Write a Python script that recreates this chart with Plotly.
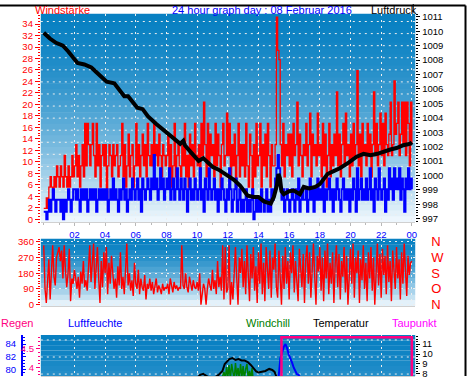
import plotly.graph_objects as go

W, H = 470, 382
FONT = "Liberation Sans, Arial, sans-serif"

# ---------------- data ----------------
# 5-minute samples 00:00 .. 24:00
gust_kmh = [
    1.9, 1.9, 3.7, 1.9, 5.6, 7.4, 5.6, 3.7, 7.4, 5.6, 9.3, 7.4,
    5.6, 9.3, 7.4, 5.6, 11.1, 7.4, 5.6, 9.3, 5.6, 7.4, 11.1, 7.4,
    9.3, 13.0, 7.4, 11.1, 5.6, 9.3, 13.0, 7.4, 16.7, 9.3, 16.7, 13.0,
    9.3, 13.0, 16.7, 11.1, 7.4, 16.7, 9.3, 13.0, 5.6, 11.1, 13.0, 9.3,
    13.0, 3.7, 9.3, 13.0, 11.1, 7.4, 13.0, 9.3, 11.1, 13.0, 7.4, 9.3,
    11.1, 16.7, 7.4, 13.0, 5.6, 9.3, 14.8, 7.4, 11.1, 13.0, 5.6, 9.3,
    16.7, 9.3, 13.0, 7.4, 11.1, 14.8, 9.3, 13.0, 7.4, 16.7, 11.1, 9.3,
    13.0, 9.3, 16.7, 11.1, 13.0, 9.3, 14.8, 11.1, 7.4, 13.0, 11.1, 9.3,
    11.1, 14.8, 7.4, 13.0, 5.6, 9.3, 16.7, 7.4, 11.1, 13.0, 9.3, 7.4,
    13.0, 9.3, 16.7, 7.4, 11.1, 5.6, 14.8, 9.3, 13.0, 7.4, 16.7, 11.1,
    9.3, 13.0, 7.4, 16.7, 11.1, 20.4, 13.0, 7.4, 16.7, 9.3, 14.8, 11.1,
    13.0, 7.4, 16.7, 9.3, 14.8, 11.1, 5.6, 13.0, 16.7, 9.3, 11.1, 18.5,
    11.1, 16.7, 7.4, 13.0, 9.3, 14.8, 5.6, 11.1, 16.7, 7.4, 13.0, 9.3,
    13.0, 7.4, 16.7, 9.3, 5.6, 14.8, 11.1, 3.7, 13.0, 7.4, 16.7, 9.3,
    11.1, 16.7, 5.6, 13.0, 9.3, 14.8, 7.4, 16.7, 11.1, 5.6, 13.0, 9.3,
    9.3, 13.0, 35.2, 29.4, 27.8, 13.0, 9.3, 16.7, 7.4, 13.0, 11.1, 14.8,
    9.3, 14.8, 7.4, 16.7, 11.1, 13.0, 20.4, 9.3, 14.8, 11.1, 7.4, 13.0,
    11.1, 16.7, 9.3, 13.0, 18.5, 7.4, 14.8, 11.1, 13.0, 9.3, 18.5, 11.1,
    13.0, 7.4, 16.7, 9.3, 14.8, 5.6, 11.1, 16.7, 7.4, 13.0, 9.3, 14.8,
    11.1, 22.2, 9.3, 14.8, 7.4, 13.0, 16.7, 9.3, 18.5, 11.1, 13.0, 7.4,
    14.8, 9.3, 16.7, 11.1, 13.0, 25.9, 9.3, 14.8, 7.4, 16.7, 11.1, 13.0,
    9.3, 16.7, 11.1, 14.8, 7.4, 13.0, 22.2, 11.1, 16.7, 9.3, 13.0, 18.5,
    11.1, 16.7, 9.3, 18.5, 13.0, 11.1, 14.8, 20.4, 11.1, 13.0, 24.1, 14.8,
    16.7, 20.4, 11.1, 14.8, 20.4, 13.0, 20.4, 11.1, 20.4, 16.7, 9.3, 20.4,
    13.0,
]

speed_kmh = [
    1.3, 1.3, 0.0, 1.3, 3.4, 1.3, 3.4, 5.2, 3.4, 1.3, 3.4, 3.4,
    3.4, 1.3, 3.4, 0.0, 3.4, 1.3, 3.4, 5.2, 3.4, 1.3, 3.4, 5.2,
    5.2, 3.4, 5.2, 3.4, 1.3, 5.2, 3.4, 5.2, 3.4, 5.2, 1.3, 3.4,
    5.2, 3.4, 5.2, 3.4, 5.2, 1.3, 3.4, 5.2, 3.4, 5.2, 3.4, 5.2,
    3.4, 5.2, 1.3, 3.4, 5.2, 3.4, 7.1, 3.4, 5.2, 3.4, 1.3, 5.2,
    3.4, 5.2, 7.1, 3.4, 5.2, 1.3, 3.4, 5.2, 3.4, 7.1, 5.2, 3.4,
    5.2, 7.1, 3.4, 5.2, 1.3, 7.1, 5.2, 3.4, 5.2, 7.1, 5.2, 3.4,
    7.1, 5.2, 11.2, 5.2, 7.1, 3.4, 5.2, 8.9, 5.2, 7.1, 3.4, 5.2,
    7.1, 5.2, 8.9, 3.4, 5.2, 7.1, 3.4, 5.2, 8.9, 5.2, 3.4, 7.1,
    5.2, 3.4, 7.1, 5.2, 1.3, 5.2, 7.1, 3.4, 5.2, 3.4, 7.1, 5.2,
    3.4, 5.2, 8.9, 3.4, 5.2, 1.3, 7.1, 5.2, 3.4, 8.9, 5.2, 3.4,
    5.2, 7.1, 3.4, 5.2, 1.3, 5.2, 3.4, 7.1, 5.2, 3.4, 1.3, 5.2,
    3.4, 8.9, 5.2, 1.3, 3.4, 5.2, 7.1, 1.3, 3.4, 5.2, 1.3, 3.4,
    1.3, 3.4, 5.2, 1.3, 3.4, 1.3, 3.4, 5.2, 0.0, 1.3, 3.4, 1.3,
    3.4, 1.3, 5.2, 3.4, 1.3, 3.4, 5.2, 1.3, 3.4, 1.3, 5.2, 3.4,
    5.2, 7.1, 8.9, 11.2, 8.9, 5.2, 3.4, 5.2, 1.3, 3.4, 5.2, 3.4,
    1.3, 3.4, 5.2, 3.4, 1.3, 5.2, 3.4, 7.1, 1.3, 3.4, 5.2, 3.4,
    3.4, 5.2, 1.3, 3.4, 7.1, 3.4, 5.2, 1.3, 5.2, 3.4, 7.1, 3.4,
    5.2, 3.4, 7.1, 1.3, 5.2, 3.4, 5.2, 7.1, 3.4, 5.2, 1.3, 5.2,
    3.4, 7.1, 5.2, 3.4, 1.3, 5.2, 7.1, 3.4, 5.2, 3.4, 5.2, 1.3,
    5.2, 3.4, 7.1, 5.2, 1.3, 8.9, 3.4, 5.2, 7.1, 3.4, 5.2, 3.4,
    7.1, 3.4, 5.2, 8.9, 3.4, 5.2, 1.3, 7.1, 5.2, 3.4, 8.9, 5.2,
    3.4, 5.2, 7.1, 1.3, 5.2, 3.4, 8.9, 5.2, 7.1, 3.4, 8.9, 5.2,
    7.1, 5.2, 8.9, 3.4, 7.1, 5.2, 1.3, 7.1, 5.2, 8.9, 5.2, 7.1,
    5.2,
]

direction_deg = [
    340, 90, 10, 170, 260, 30, 200, 340, 160, 110, 270, 300,
    330, 250, 310, 150, 340, 200, 100, 180, 320, 20, 150, 120,
    200, 150, 90, 160, 40, 190, 120, 250, 100, 140, 80, 210,
    340, 130, 270, 350, 90, 200, 330, 150, 10, 250, 100, 300,
    180, 330, 60, 240, 120, 280, 200, 90, 150, 40, 220, 110,
    300, 90, 160, 60, 200, 350, 110, 180, 80, 140, 50, 240,
    120, 90, 200, 60, 150, 100, 80, 170, 30, 120, 90, 150,
    80, 130, 60, 100, 150, 70, 110, 90, 60, 120, 80, 100,
    90, 120, 60, 150, 100, 70, 130, 90, 110, 80, 100, 90,
    340, 110, 90, 180, 100, 70, 160, 120, 80, 140, 100, 90,
    130, 80, 180, 0, 60, 120, 90, 0, 90, 150, 110, 80,
    200, 90, 140, 60, 250, 100, 160, 80, 340, 30, 330, 70,
    90, 340, 0, 130, 30, 220, 330, 150, 0, 270, 180, 320,
    100, 250, 60, 340, 180, 20, 290, 150, 330, 80, 220, 10,
    300, 120, 350, 60, 240, 20, 330, 170, 90, 310, 40, 270,
    200, 350, 100, 40, 310, 160, 0, 280, 90, 330, 120, 250,
    30, 300, 180, 340, 70, 250, 150, 20, 320, 200, 100, 290,
    10, 260, 340, 120, 300, 40, 230, 350, 160, 0, 280, 190,
    330, 80, 270, 20, 310, 150, 350, 60, 240, 120, 300, 10,
    230, 340, 100, 290, 30, 250, 160, 330, 70, 280, 0, 200,
    320, 120, 350, 40, 270, 180, 310, 10, 260, 140, 340, 90,
    240, 20, 300, 150, 330, 80, 270, 0, 220, 350, 110, 290,
    40, 320, 170, 280, 60, 340, 130, 250, 20, 310, 200, 90,
    330, 150, 260, 30, 300, 120, 350, 200, 50, 280, 170, 240,
    250,
]

pressure_hours = [0, 0.4, 0.8, 1.25, 1.6, 2.0, 2.2, 2.65, 3.1, 3.4, 3.75, 4.1,
                  4.6, 4.9, 5.25, 5.5, 5.8, 6.1, 6.45, 6.8, 7.3, 8.0, 8.4, 8.9,
                  9.1, 9.2, 9.6, 10.1, 10.4, 10.6, 11.0, 11.4, 12.1, 12.4, 12.8,
                  13.3, 13.7, 14.0, 14.35, 14.8, 15.0, 15.2, 15.3, 15.4, 15.5,
                  15.65, 16.0, 16.3, 16.7, 16.95, 17.3, 17.7, 18.0, 18.5, 18.9,
                  19.3, 19.9, 20.4, 20.85, 21.3, 21.75, 22.1, 22.6, 23.0, 23.45,
                  23.9, 24.0]
pressure_hpa = [1009.9, 1009.5, 1009.2, 1009.0, 1008.6, 1008.1, 1007.8, 1007.7,
                1007.5, 1007.2, 1006.8, 1006.5, 1006.4, 1006.0, 1005.5, 1005.5,
                1005.1, 1004.7, 1004.6, 1004.1, 1003.6, 1003.0, 1002.7, 1002.2,
                1002.4, 1002.1, 1001.6, 1001.0, 1001.2, 1001.0, 1000.6, 1000.4,
                999.9, 999.7, 999.3, 998.6, 998.5, 998.5, 998.2, 998.05, 998.5,
                999.3, 1000.1, 999.8, 998.9, 998.7, 998.9, 998.95, 998.7, 999.2,
                999.1, 999.2, 999.4, 1000.1, 1000.3, 1000.5, 1000.9, 1001.3,
                1001.5, 1001.4, 1001.5, 1001.65, 1001.8, 1001.9, 1002.1, 1002.2,
                1002.3]

rain_hours = [0, 15.5, 15.5, 24.0, 24.0]
rain_mm = [0, 0, 4.82, 4.82, 0]

humidity_hours = [0, 4, 8, 12, 14, 15.0, 15.32, 15.43, 15.54, 15.65, 15.76, 15.86,
                  15.97, 16.08, 16.19, 16.30, 16.51, 16.62, 16.8, 18, 21, 24]
humidity_pct = [74, 73, 72, 74, 76, 77.5, 79.0, 81.8, 82.8, 83.6, 84.0, 83.4,
                82.4, 81.8, 81.1, 80.3, 79.3, 79.2, 78.3, 77, 76, 75]

temp_hours = [0, 5, 9, 10.0, 10.2, 10.4, 10.6, 11.0, 11.4, 11.65, 11.8, 11.95,
              12.1, 12.3, 12.5, 12.7, 12.9, 13.1, 13.3, 13.5, 13.7, 13.85, 14.0,
              14.2, 14.45, 14.7, 14.9, 15.05, 15.2, 16, 20, 24]
temp_c = [6.0, 5.2, 6.8, 7.6, 7.9, 8.0, 7.8, 7.5, 7.9, 8.3, 9.0, 9.3,
          9.5, 9.6, 9.4, 9.5, 9.35, 9.35, 9.2, 8.9, 8.5, 8.25, 8.15,
          8.2, 8.3, 8.5, 8.4, 8.2, 7.6, 7.0, 6.5, 6.2]

windchill_hours = [0, 6, 11.0, 11.5, 11.75, 11.83, 11.92, 12.0, 12.08, 12.17,
                   12.25, 12.33, 12.42, 12.5, 12.58, 12.67, 12.75, 12.83, 12.92,
                   13.0, 13.08, 13.17, 13.25, 13.33, 13.42, 13.5, 13.58, 13.67,
                   13.75, 14.0, 18, 24]
windchill_c = [4.0, 3.5, 6.0, 7.0, 8.2, 7.4, 8.7, 7.6, 8.9, 7.5, 9.0, 8.0, 7.4,
               9.1, 7.8, 8.6, 7.3, 9.0, 7.7, 8.8, 7.5, 8.5, 9.0, 7.6, 8.3, 7.4,
               8.6, 7.2, 6.8, 6.0, 5.0, 4.5]

hour_ticks = [2, 4, 6, 8, 10, 12, 14, 16, 18, 20, 22, 24]
hour_labels = ["02", "04", "06", "08", "10", "12", "14", "16", "18", "20", "22", "00"]
wind_ticks = list(range(0, 35, 2))
pressure_ticks = list(range(997, 1012))
dir_ticks = [0, 90, 180, 270, 360]
dir_labels = ["N", "O", "S", "W", "N"]
hum_ticks = [78, 80, 82, 84]
rain_ticks = [4, 4.5]
rain_labels = ["4", "4.5"]
temp_ticks = [8, 9, 10, 11]

assert len(gust_kmh) == len(speed_kmh) == len(direction_deg) == 289
step_hours = [i / 12 for i in range(len(gust_kmh))]

# ---------------- layout helpers ----------------
def fx(px):
    return px / W


def fy(py):
    return 1 - py / H


X_DOM = [fx(41), fx(417)]
TOP_DOM = [fy(224), fy(10)]
MID_DOM = [fy(310), fy(241)]
BOT_DOM = [0, fy(340)]
X_RANGE = [-0.19, 24.22]

RED = "#ff0000"
BLUE = "#0000ff"
PINK = "#ff0080"
MAGENTA = "#ff00ff"
GREEN = "#008000"
GRID = "#eeeeee"
DOTS = "2px,4px"

fig = go.Figure()
common = dict(mode="lines", hoverinfo="skip", showlegend=False)
fig.add_trace(go.Scatter(x=step_hours, y=gust_kmh, xaxis="x", yaxis="y",
                         line=dict(color=RED, width=1.3, shape="hv"), **common))
fig.add_trace(go.Scatter(x=step_hours, y=speed_kmh, xaxis="x", yaxis="y",
                         line=dict(color=BLUE, width=2, shape="hv"), **common))
fig.add_trace(go.Scatter(x=pressure_hours, y=pressure_hpa, xaxis="x", yaxis="y2",
                         line=dict(color="#000000", width=4), **common))
fig.add_trace(go.Scatter(x=step_hours, y=direction_deg, xaxis="x2", yaxis="y3",
                         line=dict(color=RED, width=1.4), **common))
fig.add_trace(go.Scatter(x=step_hours, y=direction_deg, xaxis="x2", yaxis="y7",
                         opacity=0, line=dict(color=RED, width=0.1), **common))
fig.add_trace(go.Scatter(x=humidity_hours, y=humidity_pct, xaxis="x3", yaxis="y4",
                         line=dict(color=BLUE, width=2), **common))
fig.add_trace(go.Scatter(x=rain_hours, y=rain_mm, xaxis="x3", yaxis="y5",
                         line=dict(color=PINK, width=2.5), **common))
fig.add_trace(go.Scatter(x=windchill_hours, y=windchill_c, xaxis="x3", yaxis="y6",
                         line=dict(color=GREEN, width=1.5), **common))
fig.add_trace(go.Scatter(x=temp_hours, y=temp_c, xaxis="x3", yaxis="y6",
                         line=dict(color="#000000", width=2), **common))

# ---------------- background gradients and grids ----------------
TOP_RGB = (8, 128, 194)
BOT_RGB = (242, 249, 254)
shapes = []


def gradient(xref, yref, n, f0, f1, gamma=1.6):
    for i in range(n):
        a, b = i / n, (i + 1) / n
        f = f0 + (f1 - f0) * (a + b) / 2
        g = f ** gamma
        c = tuple(round(TOP_RGB[k] + (BOT_RGB[k] - TOP_RGB[k]) * g) for k in range(3))
        shapes.append(dict(type="rect", xref=xref, yref=yref, x0=0, x1=1,
                           y0=max(0, 1 - b - 0.003), y1=1 - a,
                           fillcolor="rgb(%d,%d,%d)" % c, line=dict(width=0),
                           layer="below"))


gradient("x domain", "y domain", 36, 0.0, 1.0)
gradient("x2 domain", "y3 domain", 12, 0.0, 1.0)
gradient("x3 domain", "y4 domain", 8, 0.0, 0.28)

for k in range(17):
    ypx = 18 + 12.4 * k
    yd = (224 - ypx) / 214
    shapes.append(dict(type="line", xref="x domain", yref="y domain", x0=0, x1=1,
                       y0=yd, y1=yd, line=dict(color=GRID, width=1, dash=DOTS),
                       layer="below"))
for ypx in (345, 362.5, 380):
    yd = (382 - ypx) / 42
    shapes.append(dict(type="line", xref="x3 domain", yref="y4 domain", x0=0, x1=1,
                       y0=yd, y1=yd, line=dict(color=GRID, width=1, dash=DOTS),
                       layer="below"))

# outer frame
shapes.append(dict(type="line", xref="paper", yref="paper", x0=0, x1=fx(467.5),
                   y0=fy(1.5), y1=fy(1.5), line=dict(color="#000000", width=2)))
shapes.append(dict(type="line", xref="paper", yref="paper", x0=fx(467.5), x1=fx(467.5),
                   y0=fy(1.5), y1=0, line=dict(color="#000000", width=2)))
shapes.append(dict(type="line", xref="paper", yref="paper", x0=fx(415), x1=fx(415),
                   y0=fy(0), y1=fy(9), line=dict(color="#000000", width=1)))

# ---------------- axes ----------------
def tf(color, size=9.5):
    return dict(family=FONT, size=size, color=color)


xcommon = dict(domain=X_DOM, range=X_RANGE, tickmode="array", tickvals=hour_ticks,
               ticktext=hour_labels, showgrid=True, gridcolor=GRID, griddash=DOTS,
               gridwidth=1, zeroline=False, showline=True, linecolor="#d0d0d0",
               linewidth=1, fixedrange=True)

layout = dict(
    width=W, height=H, autosize=False,
    margin=dict(l=0, r=0, t=0, b=0, pad=0),
    paper_bgcolor="#ffffff", plot_bgcolor="rgba(0,0,0,0)",
    showlegend=False, shapes=shapes, hovermode=False,
    xaxis=dict(anchor="y", tickfont=tf(BLUE), ticks="outside", ticklen=3,
               tickcolor="#b8b8b8",
               minor=dict(dtick=1, tick0=0, ticks="outside", ticklen=2,
                          tickcolor="#b8b8b8", showgrid=False),
               **xcommon),
    xaxis2=dict(anchor="y3", showticklabels=False, ticks="", **xcommon),
    xaxis3=dict(anchor="y4", showticklabels=False, ticks="", **xcommon),
    yaxis=dict(domain=TOP_DOM, anchor="x", range=[-0.51, 35.8], tickmode="array",
               tickvals=wind_ticks, tickfont=tf(RED), ticks="outside", ticklen=5,
               tickcolor=RED, showgrid=False, zeroline=False, showline=False,
               minor=dict(dtick=0.5, tick0=0, ticks="outside", ticklen=2,
                          tickcolor=RED, showgrid=False), fixedrange=True),
    yaxis2=dict(overlaying="y", side="right", anchor="x", range=[996.76, 1011.22],
                tickmode="array", tickvals=pressure_ticks, tickfont=tf("#000000"),
                ticks="outside", ticklen=4, tickcolor="#000000", showgrid=False,
                zeroline=False, showline=False,
                minor=dict(dtick=0.2, tick0=997, ticks="outside", ticklen=2,
                           tickcolor="#000000", showgrid=False), fixedrange=True),
    yaxis3=dict(domain=MID_DOM, anchor="x2", range=[-7.3, 378.4], tickmode="array",
                tickvals=dir_ticks, tickfont=tf(RED), ticks="outside", ticklen=4,
                tickcolor=RED, showgrid=True, gridcolor=GRID, griddash=DOTS,
                zeroline=False, showline=False,
                minor=dict(dtick=15, tick0=0, ticks="outside", ticklen=2,
                           tickcolor=RED, showgrid=False), fixedrange=True),
    yaxis7=dict(overlaying="y3", side="right", anchor="x2", range=[-7.3, 378.4],
                tickmode="array", tickvals=dir_ticks, ticktext=dir_labels,
                tickfont=tf(RED, 13), ticks="", ticklabelstandoff=15,
                showgrid=False, zeroline=False, showline=False, fixedrange=True),
    yaxis4=dict(domain=BOT_DOM, anchor="free", position=fx(22), side="left",
                range=[79.0, 85.4], tickmode="array", tickvals=hum_ticks,
                tickfont=tf(BLUE), ticks="inside", ticklen=3, tickcolor=BLUE,
                showline=True, linecolor=BLUE, linewidth=2, showgrid=False,
                zeroline=False, ticklabelstandoff=3,
                minor=dict(dtick=0.5, tick0=0, ticks="inside", ticklen=2,
                           tickcolor=BLUE, showgrid=False), fixedrange=True),
    yaxis5=dict(overlaying="y4", anchor="x3", side="left", range=[3.77, 4.876],
                tickmode="array", tickvals=rain_ticks, ticktext=rain_labels,
                tickfont=tf(PINK), ticks="outside", ticklen=4, tickcolor=PINK,
                showgrid=False, zeroline=False, showline=False,
                minor=dict(dtick=0.1, tick0=0, ticks="outside", ticklen=2,
                           tickcolor=PINK, showgrid=False), fixedrange=True),
    yaxis6=dict(overlaying="y4", anchor="x3", side="right", range=[7.79, 11.91],
                tickmode="array", tickvals=temp_ticks, tickfont=tf("#000000"),
                ticks="outside", ticklen=4, tickcolor="#000000", showgrid=False,
                zeroline=False, showline=False,
                minor=dict(dtick=0.25, tick0=0, ticks="outside", ticklen=2,
                           tickcolor="#000000", showgrid=False), fixedrange=True),
)

labels = [
    ("Windstärke", 33, 6.5, RED),
    ("24 hour graph day : 08 Februar 2016", 171, 6.5, BLUE),
    ("Luftdruck", 371, 6.5, "#000000"),
    ("Regen", -1, 327.5, PINK),
    ("Luftfeuchte", 66, 327.5, BLUE),
    ("Windchill", 245.5, 327.5, GREEN),
    ("Temperatur", 312, 327.5, "#000000"),
    ("Taupunkt", 392, 327.5, MAGENTA),
]
layout["annotations"] = [
    dict(text=t, x=fx(xp), y=fy(yp), xref="paper", yref="paper", xanchor="left",
         yanchor="middle", showarrow=False, font=dict(family=FONT, size=11, color=c))
    for t, xp, yp, c in labels
]

fig.update_layout(**layout)

fig.write_html("out.html", config={"displayModeBar": False, "staticPlot": True},
               post_script="document.body.style.margin='0';document.body.style.overflow='hidden';")
